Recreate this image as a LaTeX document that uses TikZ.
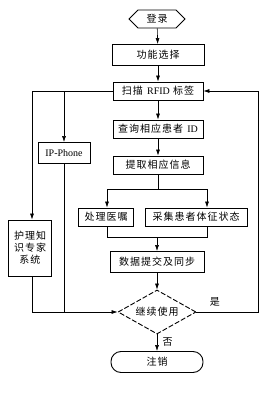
\documentclass[tikz,border=0pt]{standalone}
\usepackage{fontspec}
\setmainfont{Liberation Serif}
\newfontfamily\cjk[LetterSpace=10]{Noto Sans CJK SC}
\usetikzlibrary{shapes.geometric,shapes.symbols,arrows.meta}

\begin{document}
\begin{tikzpicture}[x=1pt,y=-1pt,
    font=\cjk\fontsize{10}{12}\selectfont,
    box/.style={draw,line width=0.9pt,inner sep=0pt,minimum height=18pt},
    flow/.style={line width=0.6pt},
    arr/.style={flow,-{Latex[length=6pt,width=4pt]}}]
  \useasboundingbox (0,0) rectangle (273,396);
  % main column
  \node[draw,line width=0.9pt,shape=signal,signal to=west and east,
    inner sep=0pt,minimum width=56pt,minimum height=18pt] (login) at (157,19) {登录};
  \node[box,minimum width=92pt,minimum height=21pt] (func) at (158,55) {功能选择};
  \node[box,minimum width=90pt] (scan) at (158,91) {扫描 \textrm{RFID} 标签};
  \node[box,minimum width=90pt] (query) at (158,129) {查询相应患者 \textrm{ID}};
  \node[box,minimum width=90pt] (fetch) at (158,165) {提取相应信息};
  \node[box,minimum width=55pt] (advice) at (106,217) {处理医嘱};
  \node[box,minimum width=102pt] (vital) at (196,217) {采集患者体征状态};
  \node[box,minimum width=94pt,minimum height=21pt] (sync) at (157,262) {数据提交及同步};
  \node[draw,line width=0.9pt,dash pattern=on 5pt off 2pt,shape=diamond,
    inner sep=0pt,aspect=1.8,minimum width=78pt,minimum height=44pt] (again) at (157,312) {继续使用};
  \node[draw,line width=0.9pt,rounded corners=10pt,inner sep=0pt,
    minimum width=92pt,minimum height=21pt] (logout) at (157,362) {注销};
  % left column
  \node[box,minimum width=52pt,minimum height=21pt] (phone) at (64,153) {\textrm{IP-Phone}};
  \node[box,minimum width=43pt,minimum height=56pt,align=center] (expert) at (30,248)
    {护理知\\识专家\\系统};
  % junctions
  \coordinate (split) at (158,189);
  \coordinate (sl) at (107,189);
  \coordinate (sr) at (207,189);
  \coordinate (ml) at (107,237);
  \coordinate (mr) at (207,237);
  \coordinate (merge) at (157,237);
  \coordinate (lft) at (32,91);
  \coordinate (mid) at (64,91);
  \coordinate (back) at (258,312);
  % connectors
  \draw[arr] (login) -- (func);
  \draw[arr] (func) -- (scan);
  \draw[arr] (scan) -- (query);
  \draw[arr] (query) -- (fetch);
  \draw[flow] (fetch) -- (split);
  \draw[flow] (sl) -- (sr);
  \draw[arr] (sl) -- (advice.north -| sl);
  \draw[arr] (sr) -- (vital.north -| sr);
  \draw[flow] (advice.south -| ml) -- (ml) -- (mr) -- (vital.south -| mr);
  \draw[arr] (merge) -- (sync);
  \draw[arr] (sync) -- (again);
  \draw[arr] (again) -- node[right=2pt,pos=0.45] {否} (logout);
  \draw[arr] (again.east) -- node[above=2pt,pos=0.3] {是} (back) |- (scan.east);
  \draw[arr] (scan.west) -- (lft) -- (expert.north -| lft);
  \draw[arr] (mid) -- (phone.north -| mid);
  \draw[flow] (phone.south -| mid) -- (mid |- again);
  \draw[arr] (expert.south -| lft) -- (lft |- again) -- (again.west);
\end{tikzpicture}
\end{document}
